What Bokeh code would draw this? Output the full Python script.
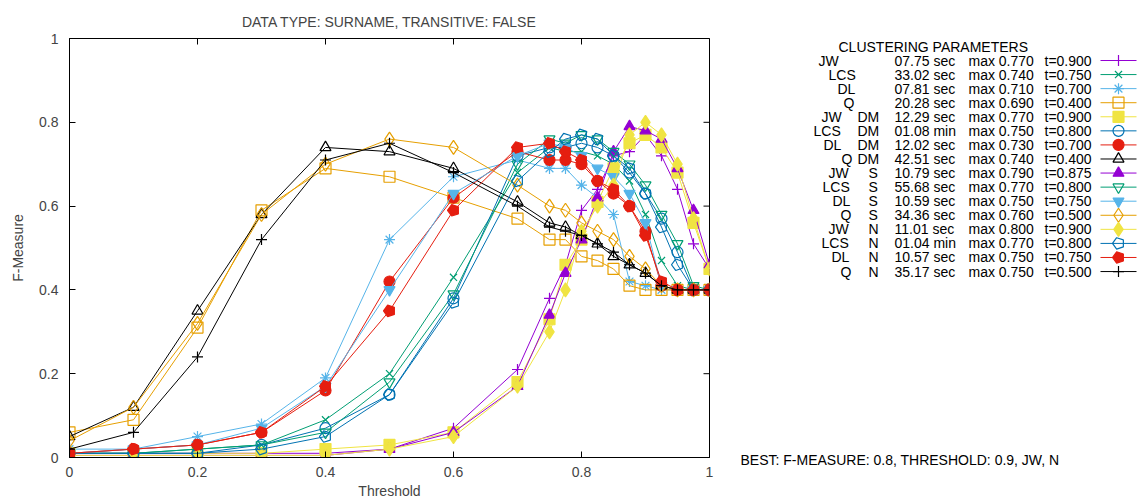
from bokeh.plotting import figure
from bokeh.models import Range1d, FixedTicker, CustomJSTickFormatter, ColumnDataSource, Title
from bokeh.layouts import row
from bokeh.embed import file_html
from bokeh.resources import INLINE
from bokeh.core.properties import value

# ---------------- data ----------------
thresholds = [0.0, 0.1, 0.2, 0.3, 0.4, 0.5, 0.6, 0.7, 0.75, 0.775, 0.8, 0.825,
              0.85, 0.875, 0.9, 0.925, 0.95, 0.975, 1.0]

jw     = [0.01, 0.01, 0.01, 0.01, 0.01, 0.02, 0.07, 0.21, 0.38, 0.46, 0.59, 0.64, 0.72, 0.73, 0.77, 0.72, 0.64, 0.51, 0.45]
lcs    = [0.01, 0.01, 0.02, 0.03, 0.09, 0.20, 0.43, 0.68, 0.74, 0.73, 0.73, 0.72, 0.70, 0.66, 0.58, 0.47, 0.41, 0.40, 0.40]
dl     = [0.02, 0.02, 0.05, 0.08, 0.19, 0.52, 0.67, 0.71, 0.69, 0.69, 0.65, 0.62, 0.58, 0.42, 0.41, 0.40, 0.40, 0.40, 0.40]
q      = [0.06, 0.09, 0.31, 0.59, 0.69, 0.67, 0.62, 0.57, 0.52, 0.52, 0.48, 0.47, 0.45, 0.41, 0.40, 0.40, 0.40, 0.40, 0.40]
jw_dm  = [0.01, 0.01, 0.01, 0.01, 0.02, 0.03, 0.06, 0.18, 0.33, 0.46, 0.52, 0.61, 0.69, 0.75, 0.77, 0.74, 0.68, 0.56, 0.45]
lcs_dm = [0.01, 0.01, 0.01, 0.03, 0.07, 0.15, 0.38, 0.72, 0.74, 0.74, 0.75, 0.74, 0.72, 0.68, 0.63, 0.57, 0.49, 0.40, 0.40]
dl_dm  = [0.01, 0.02, 0.03, 0.06, 0.16, 0.42, 0.62, 0.73, 0.71, 0.71, 0.70, 0.66, 0.63, 0.60, 0.54, 0.41, 0.40, 0.40, 0.40]
q_dm   = [0.05, 0.12, 0.35, 0.58, 0.74, 0.73, 0.69, 0.61, 0.56, 0.55, 0.53, 0.51, 0.48, 0.46, 0.44, 0.41, 0.40, 0.40, 0.40]
jw_s   = [0.005, 0.005, 0.005, 0.005, 0.005, 0.02, 0.06, 0.17, 0.34, 0.44, 0.52, 0.62, 0.73, 0.79, 0.78, 0.76, 0.69, 0.59, 0.46]
lcs_s  = [0.01, 0.01, 0.02, 0.03, 0.06, 0.18, 0.39, 0.70, 0.76, 0.75, 0.77, 0.76, 0.73, 0.70, 0.65, 0.58, 0.51, 0.41, 0.40]
dl_s   = [0.01, 0.02, 0.03, 0.07, 0.17, 0.40, 0.63, 0.72, 0.75, 0.74, 0.72, 0.69, 0.67, 0.63, 0.56, 0.41, 0.40, 0.40, 0.40]
q_s    = [0.04, 0.12, 0.32, 0.58, 0.70, 0.76, 0.74, 0.65, 0.60, 0.59, 0.56, 0.54, 0.52, 0.48, 0.45, 0.41, 0.40, 0.40, 0.40]
jw_n   = [0.005, 0.005, 0.005, 0.005, 0.005, 0.02, 0.05, 0.17, 0.30, 0.40, 0.54, 0.60, 0.65, 0.77, 0.80, 0.77, 0.70, 0.57, 0.45]
lcs_n  = [0.01, 0.01, 0.01, 0.02, 0.05, 0.15, 0.37, 0.66, 0.73, 0.76, 0.77, 0.76, 0.72, 0.69, 0.63, 0.55, 0.46, 0.40, 0.40]
dl_n   = [0.01, 0.02, 0.03, 0.06, 0.17, 0.35, 0.59, 0.74, 0.75, 0.73, 0.71, 0.66, 0.64, 0.60, 0.53, 0.42, 0.40, 0.40, 0.40]
q_n    = [0.02, 0.06, 0.24, 0.52, 0.71, 0.75, 0.68, 0.60, 0.55, 0.54, 0.53, 0.51, 0.49, 0.46, 0.44, 0.41, 0.40, 0.40, 0.40]

series = [jw, lcs, dl, q, jw_dm, lcs_dm, dl_dm, q_dm, jw_s, lcs_s, dl_s, q_s, jw_n, lcs_n, dl_n, q_n]

names = ["JW", "LCS", "DL", "Q"] * 4
mods = [""] * 4 + ["DM"] * 4 + ["S"] * 4 + ["N"] * 4
times = ["07.75 sec", "33.02 sec", "07.81 sec", "20.28 sec",
         "12.29 sec", "01.08 min", "12.02 sec", "42.51 sec",
         "10.79 sec", "55.68 sec", "10.59 sec", "34.36 sec",
         "11.01 sec", "01.04 min", "10.57 sec", "35.17 sec"]
maxes = [0.770, 0.740, 0.710, 0.690, 0.770, 0.750, 0.730, 0.740,
         0.790, 0.770, 0.750, 0.760, 0.800, 0.770, 0.750, 0.750]
tbest = [0.900, 0.750, 0.700, 0.400, 0.900, 0.800, 0.700, 0.400,
         0.875, 0.800, 0.750, 0.500, 0.900, 0.800, 0.750, 0.500]

x_ticks = [0, 0.2, 0.4, 0.6, 0.8, 1.0]
y_ticks = [0, 0.2, 0.4, 0.6, 0.8, 1.0]

title_text = "DATA TYPE: SURNAME, TRANSITIVE: FALSE"
best_text = "BEST: F-MEASURE: 0.8, THRESHOLD: 0.9, JW, N"
key_title = "CLUSTERING PARAMETERS"

# ---------------- styles ----------------
PURPLE, GREEN, LBLUE, ORANGE = "#9400D3", "#009E73", "#56B4E9", "#E69F00"
YELLOW, BLUE, RED, BLACK = "#F0E442", "#0072B2", "#E51E10", "#000000"
styles = [
    (PURPLE, "cross", False, 11), (GREEN, "x", False, 10), (LBLUE, "asterisk", False, 11), (ORANGE, "square", False, 11),
    (YELLOW, "square", True, 11), (BLUE, "circle", False, 11), (RED, "circle", True, 11), (BLACK, "triangle", False, 11),
    (PURPLE, "triangle", True, 11), (GREEN, "inverted_triangle", False, 11), (LBLUE, "inverted_triangle", True, 11), (ORANGE, "diamond", False, 14),
    (YELLOW, "diamond", True, 14), (BLUE, "pentagon", False, 6), (RED, "pentagon", True, 6), (BLACK, "cross", False, 11),
]
FONT = value("Liberation Sans")

W_TOTAL, W_MAIN, H = 1144, 720, 501
B_LEFT, B_RIGHT, B_TOP, B_BOTTOM = 69, 11, 38, 44


def draw_marker(fig, src, color, marker, filled, size):
    fill = color if filled else None
    if marker == "pentagon":
        try:
            fig.ngon(x="x", y="y", radius=size, radius_units="screen", n=5, angle=1.5708,
                     source=src, line_color=color, fill_color=fill, line_width=1.2)
            return
        except Exception:
            marker = "hex"
            size = 11
    fig.scatter(x="x", y="y", source=src, marker=marker, size=size, line_color=color,
                fill_color=fill, line_width=1.2)


# ---------------- main plot ----------------
p = figure(width=W_MAIN, height=H, x_range=Range1d(0, 1), y_range=Range1d(0, 1),
           output_backend="svg", toolbar_location=None, title=title_text,
           min_border_left=B_LEFT, min_border_right=B_RIGHT, min_border_top=B_TOP,
           min_border_bottom=B_BOTTOM)
p.title.align = "center"
p.title.text_font = "Liberation Sans"
p.title.text_font_size = "14px"
p.title.text_font_style = "normal"
p.title.standoff = 18
p.grid.visible = False
p.outline_line_color = "black"
p.outline_line_alpha = 1
p.outline_line_width = 1

fmt = CustomJSTickFormatter(code="return (tick == 0 || tick == 1) ? tick.toFixed(0) : tick.toFixed(1);")
for ax in p.xaxis + p.yaxis:
    ax.major_tick_in = 6
    ax.major_tick_out = 0
    ax.minor_tick_line_color = None
    ax.axis_line_color = "black"
    ax.major_label_text_font = "Liberation Sans"
    ax.major_label_text_font_size = "14px"
    ax.axis_label_text_font = "Liberation Sans"
    ax.axis_label_text_font_size = "14px"
    ax.axis_label_text_font_style = "normal"
    ax.formatter = fmt
p.xaxis.ticker = FixedTicker(ticks=x_ticks)
p.yaxis.ticker = FixedTicker(ticks=y_ticks)
p.xaxis.axis_label = "Threshold"
p.yaxis.axis_label = "F-Measure"
p.xaxis.major_label_standoff = 9
p.xaxis.axis_label_standoff = 3
p.yaxis.major_label_standoff = 11
p.yaxis.axis_label_standoff = 10

# mirrored inward ticks on the top and right border (half of each dash is clipped by the frame)
p.scatter(x=x_ticks, y=[1] * len(x_ticks), marker="dash", angle=1.5708, size=12, line_color="black", line_width=1)
p.scatter(x=[1] * len(y_ticks), y=y_ticks, marker="dash", size=12, line_color="black", line_width=1)

for ys, (color, marker, filled, size) in zip(series, styles):
    src = ColumnDataSource(dict(x=thresholds, y=ys))
    p.line(x="x", y="y", source=src, line_color=color, line_width=1)
    draw_marker(p, src, color, marker, filled, size)

# ---------------- key panel (coordinates in page pixels; its frame is aligned with the main frame) ----------------
W_KEY = W_TOTAL - W_MAIN
X0 = W_MAIN
k = figure(width=W_KEY, height=H, x_range=Range1d(X0, X0 + W_KEY), y_range=Range1d(H - B_BOTTOM, B_TOP),
           output_backend="svg", toolbar_location=None, min_border_left=0, min_border_right=0,
           min_border_top=B_TOP, min_border_bottom=B_BOTTOM,
           x_axis_type=None, y_axis_type=None, title=None)
k.grid.visible = False
k.outline_line_color = None

row_y = [60 + 14.07 * i for i in range(len(names))]
name_x = [818, 828, 837, 843, 821, 813, 823, 841, 828, 822, 832, 840, 828, 821, 831, 840]
mod_idx = [i for i, m in enumerate(mods) if m]
mod_x = [868 if mods[i] in ("S", "N") else 857 for i in mod_idx]

txt = dict(text_font=FONT, text_font_size="14px", text_baseline="middle", text_color="black")
k.text(x=[838], y=[46], text=[key_title], text_align="left", **txt)
k.text(x=name_x, y=row_y, text=names, text_align="left", **txt)
k.text(x=mod_x, y=[row_y[i] for i in mod_idx], text=[mods[i] for i in mod_idx], text_align="left", **txt)
k.text(x=[894] * 16, y=row_y, text=times, text_align="left", **txt)
k.text(x=[968] * 16, y=row_y, text=["max %.3f" % m for m in maxes], text_align="left", **txt)
k.text(x=[1044] * 16, y=row_y, text=["t=%.3f" % t for t in tbest], text_align="left", **txt)
k.add_layout(Title(text=best_text, align="left", offset=740 - X0, standoff=-16,
                   text_font="Liberation Sans", text_font_size="14px", text_font_style="normal",
                   text_color="black"), "below")

for yy, (color, marker, filled, size) in zip(row_y, styles):
    k.segment(x0=[1100], y0=[yy], x1=[1136], y1=[yy], line_color=color, line_width=1)
    draw_marker(k, ColumnDataSource(dict(x=[1118], y=[yy])), color, marker, filled, size)

layout = row(p, k)
open("out.html", "w").write(file_html(layout, INLINE))
